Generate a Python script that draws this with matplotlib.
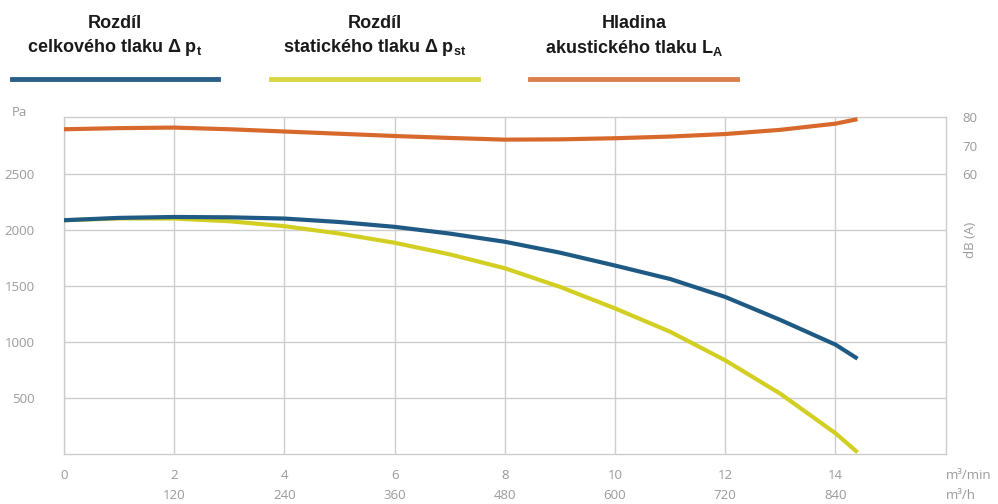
import matplotlib
matplotlib.use("Agg")
import matplotlib.pyplot as plt
from matplotlib.lines import Line2D

# průtok [m3/min] a odpovídající hodnoty v m3/h
flow = [0, 1, 2, 3, 4, 5, 6, 7, 8, 9, 10, 11, 12, 13, 14, 14.4]
tick_min = [0, 2, 4, 6, 8, 10, 12, 14]
tick_h = ["", "120", "240", "360", "480", "600", "720", "840"]

# rozdíl celkového tlaku [Pa]
p_total = [2084, 2105, 2113, 2110, 2099, 2068, 2025, 1965, 1892, 1795,
           1680, 1560, 1400, 1195, 975, 850]
# rozdíl statického tlaku [Pa]
p_static = [2084, 2100, 2099, 2075, 2031, 1965, 1883, 1780, 1656, 1490,
            1298, 1090, 835, 537, 185, 15]
# hladina akustického tlaku [dB(A)]
noise = [75.8, 76.2, 76.4, 75.8, 75.0, 74.2, 73.4, 72.7, 72.1, 72.2,
         72.6, 73.2, 74.1, 75.6, 77.8, 79.4]

pa_ticks = [500, 1000, 1500, 2000, 2500]
db_ticks = [60, 70, 80]

plt.rcParams["font.family"] = ["Open Sans", "DejaVu Sans"]
plt.rcParams["mathtext.fontset"] = "custom"
plt.rcParams["mathtext.rm"] = "Liberation Sans:bold"
plt.rcParams["mathtext.default"] = "rm"

BLUE = "#1f5a84"
YELLOW = "#d2cf22"
ORANGE = "#d8692d"
GRID = "#cdcdcd"
TXT = "#9a9a9a"

fig = plt.figure(figsize=(9.98, 5.04), dpi=100, facecolor="white")
ax = fig.add_axes([0.0641, 0.0992, 0.8835, 0.6677])

ax.plot(flow, p_total, color=BLUE, lw=3, solid_capstyle="butt",
        solid_joinstyle="round", zorder=4)
ax.plot(flow, p_static, color=YELLOW, lw=3, solid_capstyle="butt",
        solid_joinstyle="round", zorder=3)

ax.set_xlim(0, 16)
ax.set_ylim(0, 3000)
ax.set_yticks(pa_ticks)
ax.set_xticks(tick_min)
ax.set_xticklabels([f"{m}\n{h}" if h else str(m) for m, h in zip(tick_min, tick_h)],
                   linespacing=1.7)
ax.grid(True, color=GRID, lw=1)
ax.set_axisbelow(True)
ax.tick_params(length=0, colors=TXT, labelsize=9.5)
ax.tick_params(axis="x", pad=10.5)
ax.tick_params(axis="y", pad=21)
for s in ax.spines.values():
    s.set_color(GRID)
    s.set_linewidth(1)

# pravá osa pro hluk
ax2 = ax.twinx()
ax2.plot(flow, noise, color=ORANGE, lw=3, solid_capstyle="butt",
         solid_joinstyle="round", zorder=3)
ax2.set_ylim(-40, 80)
ax2.set_yticks(db_ticks)
ax2.tick_params(length=0, colors=TXT, labelsize=9.5, pad=12)
for s in ax2.spines.values():
    s.set_visible(False)

ax.annotate("m³/min\nm³/h", xy=(1, 0), xycoords="axes fraction",
            xytext=(0, -10.5), textcoords="offset points", ha="left", va="top",
            color=TXT, fontsize=9.5, linespacing=1.7)
fig.text(12 / 998, 1 - 113 / 504, "Pa", color=TXT, fontsize=9.5, va="center")
fig.text(970 / 998, 1 - 240 / 504, "dB (A)", color=TXT, fontsize=9.5,
         rotation=90, ha="center", va="center")

# záhlaví s popisem křivek
head = [
    (115, "Rozdíl", r"celkového tlaku Δ p$_{t}$", 12, 218, "#2a5f88"),
    (375, "Rozdíl", r"statického tlaku Δ p$_{st}$", 271, 478, "#d9d646"),
    (634, "Hladina", r"akustického tlaku L$_{A}$", 530, 737, "#d9804d"),
]
for cx, l1, l2, x0, x1, col in head:
    fig.text(cx / 998, 1 - 24 / 504, l1, ha="center", va="center",
             fontsize=13, fontweight="bold", family="Liberation Sans", color="#1a1a1a")
    fig.text(cx / 998, 1 - 48 / 504, l2, ha="center", va="center",
             fontsize=13, fontweight="bold", family="Liberation Sans", color="#1a1a1a")
    fig.add_artist(Line2D([x0 / 998, x1 / 998], [1 - 79 / 504] * 2,
                          transform=fig.transFigure, color=col, lw=3.5))

fig.savefig("out.png", dpi=100, facecolor="white")
